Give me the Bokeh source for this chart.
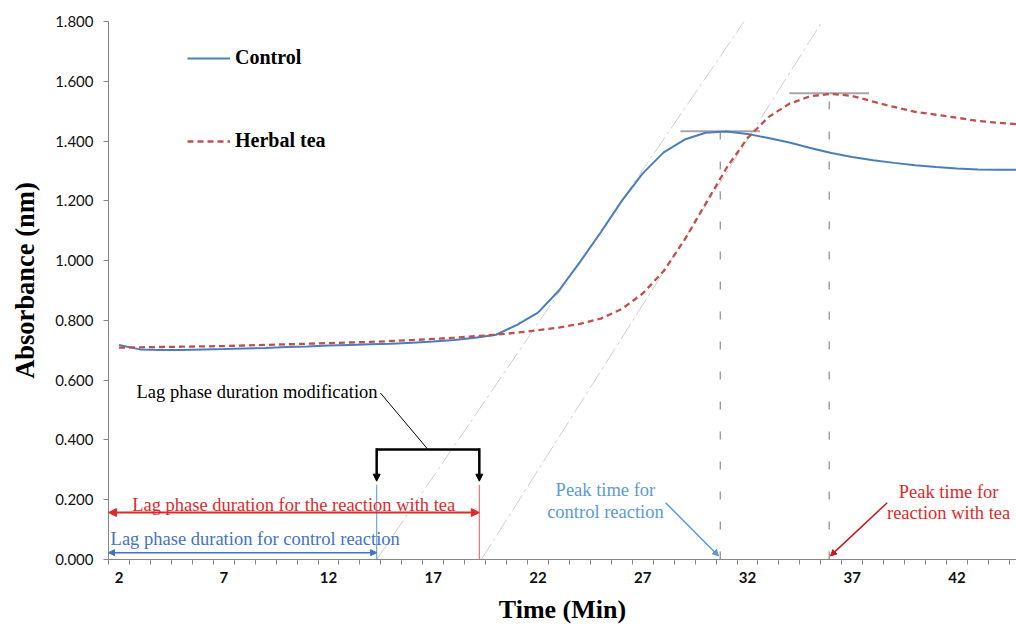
from bokeh.plotting import figure
from bokeh.models import (Range1d, FixedTicker, NumeralTickFormatter, Label, Arrow,
                          NormalHead, Legend, LegendItem)
from bokeh.embed import file_html
from bokeh.resources import INLINE

# ---------------- data ----------------
minutes = list(range(2, 46))
control = [0.718, 0.703, 0.701, 0.701, 0.703, 0.704, 0.706, 0.708, 0.711, 0.713,
           0.716, 0.718, 0.720, 0.722, 0.725, 0.729, 0.734, 0.742, 0.752, 0.785,
           0.826, 0.900, 0.995, 1.095, 1.200, 1.292, 1.362, 1.405, 1.428, 1.432,
           1.424, 1.410, 1.395, 1.377, 1.360, 1.347, 1.336, 1.327, 1.319, 1.313,
           1.308, 1.305, 1.304, 1.304]
herbal_tea = [0.709, 0.710, 0.711, 0.712, 0.713, 0.714, 0.716, 0.718, 0.720, 0.722,
              0.724, 0.726, 0.728, 0.731, 0.734, 0.738, 0.742, 0.747, 0.752, 0.759,
              0.767, 0.776, 0.788, 0.806, 0.838, 0.890, 0.965, 1.070, 1.190, 1.310,
              1.410, 1.480, 1.525, 1.550, 1.558, 1.551, 1.532, 1.514, 1.498, 1.488,
              1.478, 1.467, 1.461, 1.456]
x_tick_labels = [2, 7, 12, 17, 22, 27, 32, 37, 42]
y_ticks = [0.0, 0.2, 0.4, 0.6, 0.8, 1.0, 1.2, 1.4, 1.6, 1.8]

# annotation values
lag_control = 14.3
lag_tea = 19.2
peak_control_time, peak_control_value = 30.7, 1.433
peak_tea_time, peak_tea_value = 35.9, 1.558
tangent_control_x, tangent_control_y = [14.3, 32.06], [0.0, 1.823]
tangent_tea_x, tangent_tea_y = [19.3, 35.63], [0.0, 1.807]

SERIF = "Liberation Serif"
BLUE = "#4a7ebb"
RED = "#c0504d"
TXT_RED = "#dc2a2a"
TXT_BLUE = "#4472c4"
LIGHT_BLUE = "#5b9bd5"
AXIS_GREY = "#868686"

p = figure(width=1016, height=626, output_backend="svg", toolbar_location=None,
           x_range=Range1d(1.5, 44.84), y_range=Range1d(0, 1.8),
           min_border_left=108, min_border_right=0, min_border_top=21,
           min_border_bottom=64)
p.grid.visible = False
p.outline_line_color = None
p.background_fill_color = "white"

# axes
xa = p.xaxis[0]
xa.ticker = FixedTicker(ticks=x_tick_labels,
                        minor_ticks=[m - 0.5 for m in minutes] + [minutes[-1] + 0.5])
xa.major_tick_out = 0
xa.major_tick_in = 0
xa.minor_tick_out = 5
xa.minor_tick_in = 0
xa.minor_tick_line_color = AXIS_GREY
xa.axis_line_color = AXIS_GREY
xa.major_label_text_font = "Lato"
xa.major_label_text_font_style = "bold"
xa.major_label_text_font_size = "15px"
xa.major_label_text_color = "#111111"
xa.major_label_standoff = 7
xa.axis_label = "Time (Min)"
xa.axis_label_text_font = SERIF
xa.axis_label_text_font_style = "bold"
xa.axis_label_text_font_size = "26px"
xa.axis_label_text_color = "#000000"
xa.axis_label_standoff = 9

ya = p.yaxis[0]
ya.ticker = FixedTicker(ticks=y_ticks, minor_ticks=[])
ya.formatter = NumeralTickFormatter(format="0.000")
ya.major_tick_out = 5
ya.major_tick_in = 0
ya.major_tick_line_color = AXIS_GREY
ya.axis_line_color = AXIS_GREY
ya.minor_tick_line_color = None
ya.major_label_text_font = "Lato"
ya.major_label_text_font_size = "15px"
ya.major_label_text_color = "#111111"
ya.major_label_standoff = 10
# leading no-break spaces nudge the centred title upward, as in the reference
ya.axis_label = "\u00a0\u00a0\u00a0Absorbance (nm)"
ya.axis_label_text_font = SERIF
ya.axis_label_text_font_style = "bold"
ya.axis_label_text_font_size = "26.5px"
ya.axis_label_text_color = "#000000"
ya.axis_label_standoff = 12

# tangent lines
p.line(tangent_control_x, tangent_control_y, line_color="#d0d0d0", line_width=1,
       line_dash="18 4 3 4")
p.line(tangent_tea_x, tangent_tea_y, line_color="#d0d0d0", line_width=1,
       line_dash="18 4 3 4")

# peak vertical dashed lines
p.line([peak_control_time, peak_control_time], [0, peak_control_value],
       line_color="#8c8c8c", line_width=1.2, line_dash="8 22")
p.line([peak_tea_time, peak_tea_time], [0, peak_tea_value],
       line_color="#8c8c8c", line_width=1.2, line_dash="8 22")
# peak horizontal lines
p.line([peak_control_time - 1.9, peak_control_time + 1.9],
       [peak_control_value, peak_control_value], line_color="#a6a6a6", line_width=2)
p.line([peak_tea_time - 1.9, peak_tea_time + 1.9],
       [peak_tea_value + 0.002, peak_tea_value + 0.002], line_color="#a6a6a6", line_width=2)

# lag vertical lines
p.line([lag_control, lag_control], [0, 0.25], line_color="#6fa8dc", line_width=1.2)
p.line([lag_tea, lag_tea], [0, 0.25], line_color="#e8707a", line_width=1.2)

# curves
r_ctrl = p.line(minutes, control, line_color=BLUE, line_width=2)
r_tea = p.line(minutes, herbal_tea, line_color=RED, line_width=2.3, line_dash="6 4")

# legends
leg1 = Legend(items=[LegendItem(label="Control", renderers=[r_ctrl])],
              location=(79, 490))
leg2 = Legend(items=[LegendItem(label="Herbal tea", renderers=[r_tea])],
              location=(79, 407))
for lg in (leg1, leg2):
    lg.glyph_width = 43
    lg.glyph_height = 20
    lg.label_standoff = 5
    lg.padding = 0
    lg.margin = 0
    lg.border_line_color = None
    lg.background_fill_alpha = 0
    lg.label_text_font = SERIF
    lg.label_text_font_style = "bold"
    lg.label_text_font_size = "20px"
    lg.label_text_color = "#000000"
    p.add_layout(lg)

# lag bracket
bracket_y = 0.368
bracket_tip = 0.262
p.line([lag_control, lag_tea], [bracket_y, bracket_y], line_color="black", line_width=2.5)
for lx in (lag_control, lag_tea):
    p.add_layout(Arrow(end=NormalHead(size=7, fill_color="black", line_color="black"),
                       x_start=lx, y_start=bracket_y + 0.004, x_end=lx, y_end=bracket_tip,
                       line_color="black", line_width=2.5))
# leader from text to bracket
p.line([14.48, (lag_control + lag_tea) / 2], [0.557, bracket_y],
       line_color="black", line_width=1)

# lag double arrows
p.add_layout(Arrow(start=NormalHead(size=8, fill_color=TXT_RED, line_color=TXT_RED),
                   end=NormalHead(size=8, fill_color=TXT_RED, line_color=TXT_RED),
                   x_start=1.5, y_start=0.157, x_end=lag_tea, y_end=0.157,
                   line_color=TXT_RED, line_width=2))
p.add_layout(Arrow(start=NormalHead(size=6, fill_color=TXT_BLUE, line_color=TXT_BLUE),
                   end=NormalHead(size=6, fill_color=TXT_BLUE, line_color=TXT_BLUE),
                   x_start=1.5, y_start=0.023, x_end=lag_control, y_end=0.023,
                   line_color=TXT_BLUE, line_width=1.5))

# peak arrows
p.add_layout(Arrow(end=NormalHead(size=6, fill_color=LIGHT_BLUE, line_color=LIGHT_BLUE),
                   x_start=28.09, y_start=0.19, x_end=peak_control_time - 0.08, y_end=0.012,
                   line_color=LIGHT_BLUE, line_width=1.5))
p.add_layout(Arrow(end=NormalHead(size=6, fill_color="#c8161d", line_color="#c8161d"),
                   x_start=38.67, y_start=0.19, x_end=peak_tea_time + 0.06, y_end=0.012,
                   line_color="#c8161d", line_width=1.5))

def lbl(x, y, text, color, size="18.5px", align="left"):
    p.add_layout(Label(x=x, y=y, text=text, text_color=color, text_font=SERIF,
                       text_font_size=size, text_align=align,
                       text_baseline="alphabetic"))

lbl(2.84, 0.560, "Lag phase duration modification", "#000000")
lbl(2.63, 0.183, "Lag phase duration for the reaction with tea", TXT_RED)
lbl(1.6, 0.070, "Lag phase duration for control reaction", TXT_BLUE)
lbl(25.22, 0.232, "Peak time for", LIGHT_BLUE, align="center")
lbl(25.22, 0.160, "control reaction", LIGHT_BLUE, align="center")
lbl(41.6, 0.227, "Peak time for", TXT_RED, align="center")
lbl(41.6, 0.154, "reaction with tea", TXT_RED, align="center")

open("out.html", "w").write(file_html(p, INLINE))
